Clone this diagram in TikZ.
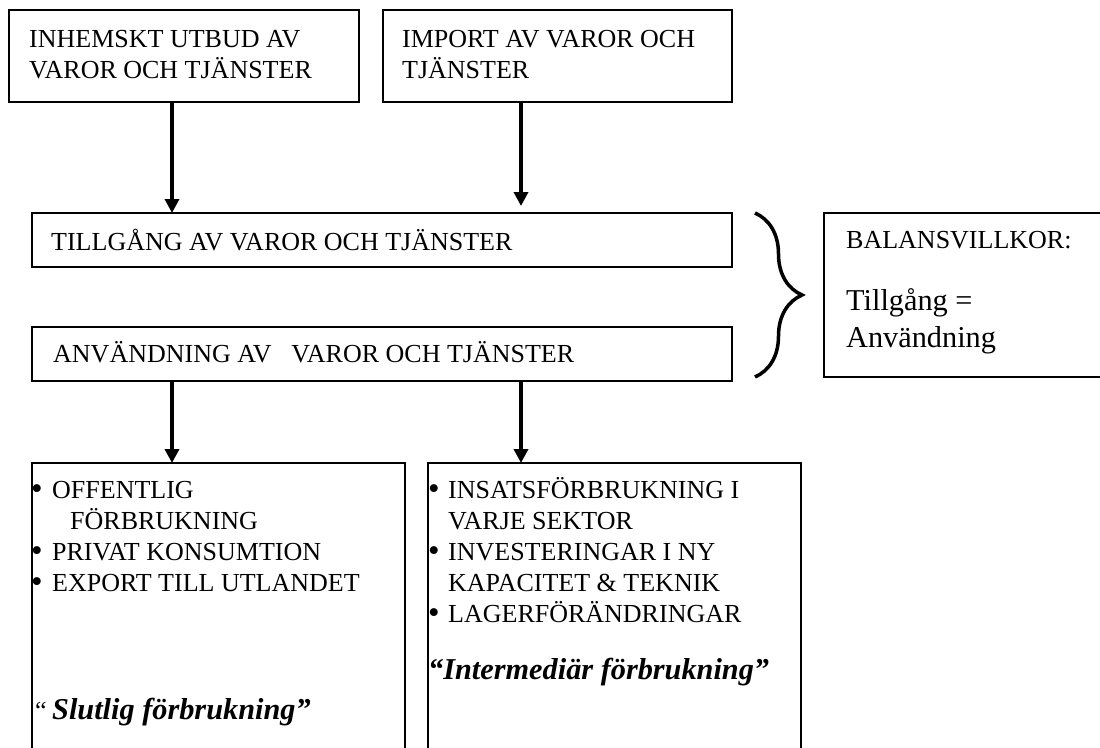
\documentclass[tikz,border=0pt]{standalone}
\usepackage{fontspec}
\setmainfont{Liberation Serif}
\usetikzlibrary{arrows.meta,decorations.pathreplacing}
\begin{document}
\begin{tikzpicture}[x=1pt,y=-1pt,
  box/.style={draw, line width=1.4pt, rectangle, inner sep=0pt, outer sep=0pt, anchor=north west},
  txt/.style={inner sep=0pt, anchor=base west, font=\fontsize{26}{30}\selectfont},
  bul/.style={inner sep=0pt, anchor=base west, font=\fontsize{33}{33}\selectfont},
  big/.style={inner sep=0pt, anchor=base west, font=\fontsize{30.3}{35}\selectfont},
  emphtxt/.style={inner sep=0pt, anchor=base west, font=\fontsize{30.3}{35}\selectfont\bfseries\itshape},
  arr/.style={line width=3.5pt, -{Triangle[width=14pt,length=14pt]}},
  bracestyle/.style={line width=3.5pt, decorate, decoration={brace, amplitude=47pt}},
  ]
\path[use as bounding box, fill=white] (0,0) rectangle (1100,747);

% boxes
\node[box, minimum width=350pt, minimum height=92pt] (A) at (9,10) {};
\node[box, minimum width=349pt, minimum height=92pt] (B) at (383,10) {};
\node[box, minimum width=700pt, minimum height=54pt] (T) at (32,213) {};
\node[box, minimum width=700pt, minimum height=54pt] (U) at (32,327) {};
\node[box, minimum width=300pt, minimum height=164pt] (BAL) at (824,213) {};
\node[box, minimum width=373pt, minimum height=320pt] (L) at (32,463) {};
\node[box, minimum width=373pt, minimum height=320pt] (R) at (428,463) {};

% arrow columns
\coordinate (x1) at (172,0);
\coordinate (x2) at (521,0);
\draw[arr] (A.south -| x1) -- (T.north -| x1);
\draw[arr, shorten >=7pt] (B.south -| x2) -- (T.north -| x2);
\draw[arr] (U.south -| x1) -- (L.north -| x1);
\draw[arr] (U.south -| x2) -- (R.north -| x2);

% brace
\coordinate (brtop) at (755,213);
\coordinate (brbot) at (755,377);
\draw[bracestyle] (brtop) -- (brbot);

% texts
\node[txt] (a1) at (29,47) {INHEMSKT UTBUD AV};
\node[txt] (a2) at (29,78) {VAROR OCH TJÄNSTER};
\node[txt] (b1) at (402,47) {IMPORT AV VAROR OCH};
\node[txt] (b2) at (402,78) {TJÄNSTER};
\node[txt] (t1) at (51,250) {TILLGÅNG AV VAROR OCH TJÄNSTER};
\node[txt] (u1) at (53,362) {ANVÄNDNING AV\hspace{20pt}VAROR OCH TJÄNSTER};
\node[txt] (bal1) at (846,248) {BALANSVILLKOR:};
\node[big] (bal2) at (846,310) {Tillgång =};
\node[big] (bal3) at (846,347) {Användning};

% left bottom box
\node[bul] (l1b) at (31,499) {•};
\node[txt] (l1) at (52,498) {OFFENTLIG};
\node[txt] (l1c) at (70,529) {FÖRBRUKNING};
\node[bul] (l2b) at (31,561) {•};
\node[txt] (l2) at (52,560) {PRIVAT KONSUMTION};
\node[bul] (l3b) at (31,592) {•};
\node[txt] (l3) at (52,591) {EXPORT TILL UTLANDET};
\node[txt] (lq) at (35,719) {“};
\node[emphtxt] (l4) at (52,719) {Slutlig förbrukning”};

% right bottom box
\node[bul] (r1b) at (428,499) {•};
\node[txt] (r1) at (448,498) {INSATSFÖRBRUKNING I};
\node[txt] (r1c) at (448,529) {VARJE SEKTOR};
\node[bul] (r2b) at (428,561) {•};
\node[txt] (r2) at (448,560) {INVESTERINGAR I NY};
\node[txt] (r2c) at (448,591) {KAPACITET \& TEKNIK};
\node[bul] (r3b) at (428,623) {•};
\node[txt] (r3) at (448,622) {LAGERFÖRÄNDRINGAR};
\node[emphtxt] (r4) at (428,679) {“Intermediär förbrukning”};
\end{tikzpicture}
\end{document}
